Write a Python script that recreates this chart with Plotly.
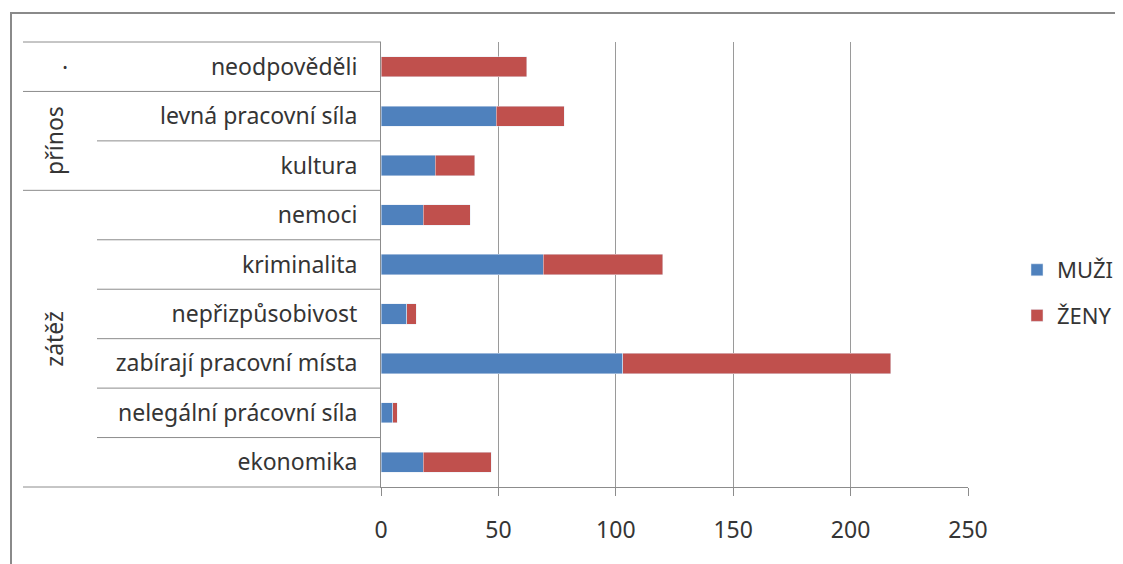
import plotly.graph_objects as go

categories = ["neodpověděli", "levná pracovní síla", "kultura", "nemoci", "kriminalita",
              "nepřizpůsobivost", "zabírají pracovní místa", "nelegální prácovní síla", "ekonomika"]
groups = ["·", "přínos", "přínos", "zátěž", "zátěž", "zátěž", "zátěž", "zátěž", "zátěž"]
muzi = [0, 49, 23, 18, 69, 11, 103, 5, 18]
zeny = [62, 29, 17, 20, 51, 4, 114, 2, 29]
x_ticks = [0, 50, 100, 150, 200, 250]

OFF = 8  # page body margin
W, H = 1123 - OFF, 564 - OFF
L, R, T, B = 381, 968, 42, 487
pw, ph = R - L, B - T
FONT = "Noto Sans"
TXT = "#353535"

def px(x):
    return (x - L) / pw

def py(y):
    return 1 - (y - T) / ph

fig = go.Figure()
fig.add_trace(go.Bar(y=categories, x=muzi, name="MUŽI", orientation="h", legendgroup="m",
                     marker=dict(color="#4F81BD"), width=0.41))
fig.add_trace(go.Bar(y=categories, x=zeny, name="ŽENY", orientation="h", legendgroup="z",
                     marker=dict(color="#C0504D"), width=0.41))

shapes = []
n = len(categories)
gcol = "#8c8c8c"
for k in range(n + 1):
    yf = 1 - k / n
    full = (k == 0 or k == n or groups[k - 1] != groups[k])
    x0 = px(23) if full else px(97)
    shapes.append(dict(type="line", xref="paper", yref="paper", x0=x0, x1=0,
                       y0=yf, y1=yf, line=dict(color=gcol, width=1)))
shapes.append(dict(type="rect", xref="paper", yref="paper", x0=px(11), x1=px(1140),
                   y0=py(600), y1=py(13), line=dict(color="#8a8a8a", width=2)))
fig.update_layout(shapes=shapes)

ann = []
grp_spans = {}
for i, g in enumerate(groups):
    grp_spans.setdefault(g, []).append(i)
for g, idx in grp_spans.items():
    yc = 1 - (min(idx) + max(idx) + 1) / 2 / n
    rot = g != "·"
    ann.append(dict(text=g, xref="paper", yref="paper", x=px(54) if rot else px(65), y=yc,
                    xanchor="center", yanchor="middle",
                    showarrow=False, textangle=-90 if rot else 0,
                    font=dict(size=23, color=TXT, family=FONT)))
fig.update_layout(annotations=ann)

fig.update_layout(
    barmode="stack",
    width=W, height=H,
    margin=dict(l=L - OFF, r=W - (R - OFF), t=T - OFF, b=H - (B - OFF), pad=0),
    paper_bgcolor="white", plot_bgcolor="white",
    font=dict(family=FONT, size=22, color=TXT),
    legend=dict(xref="container", yref="container",
                x=(1017 - OFF) / W, y=1 - (249 - OFF) / H, xanchor="left", yanchor="top",
                traceorder="grouped", font=dict(size=22, color=TXT),
                tracegroupgap=14, itemwidth=30, bgcolor="rgba(0,0,0,0)"),
    xaxis=dict(range=[0, 250], tickvals=x_ticks, showgrid=True, gridcolor="#9a9a9a",
               gridwidth=1, zeroline=False, showline=True, linecolor=gcol,
               ticks="outside", ticklen=8, tickcolor=gcol, ticklabelstandoff=14,
               tickfont=dict(size=23, color=TXT), fixedrange=True),
    yaxis=dict(type="category", categoryorder="array", categoryarray=categories,
               autorange="reversed", showgrid=False, showline=True, linecolor=gcol,
               ticks="", ticklabelstandoff=18, tickfont=dict(size=23, color=TXT)),
)

fig.write_html("out.html")
